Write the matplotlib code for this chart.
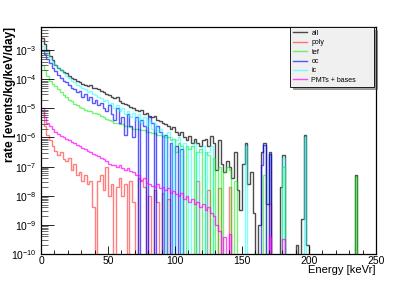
"""
Background rate spectra per detector component (ROOT-style log histogram)
"""

import numpy as np
import matplotlib
matplotlib.use("Agg")
import matplotlib.pyplot as plt
from matplotlib.ticker import MultipleLocator, LogLocator, NullFormatter

plt.rcParams["font.family"] = ["Liberation Sans", "DejaVu Sans"]
plt.rcParams["mathtext.fontset"] = "custom"
plt.rcParams["mathtext.rm"] = "Liberation Sans"
plt.rcParams["mathtext.it"] = "Liberation Sans:italic"

# 2 keV bins from 0 to 250 keVr
bin_edges = np.arange(0, 252, 2)

# log10(rate) per bin, continuous part from 0 keV; None = empty bin
all_log = [
    -2.6, -2.8, -3.0, -3.2, -3.35, -3.5, -3.6, -3.7, -3.75, -3.8,
    -3.9, -3.95, -4.0, -4.05, -4.1, -4.15, -4.2, -4.25, -4.2, -4.3,
    -4.3, -4.35, -4.4, -4.45, -4.5, -4.55, -4.6, -4.65, -4.6, -4.75,
    -4.8, -4.85, -4.9, -4.95, -5.0, -5.05, -5.1, -5.05, -5.2, -5.15,
    -5.25, -5.3, -5.25, -5.4, -5.45, -5.5, -5.55, -5.6, -5.7, -5.65,
    -5.8, -5.9, -5.8, -6.0, -6.1, -5.95, -6.2, -6.05, -6.2, -6.3,
    -6.1, -6.05, -6.3, -5.95, -6.2, -7.1, -6.1, -6.9, -7.2, -6.8,
    -7.0, -7.4, -6.5, -7.8, -8.5, -6.9, -6.2, -7.6, -7.2, -8.6,
]
poly_log = [
    -5.1, -5.6, -5.9, -6.1, -6.3, -6.45, -6.6, -6.5, -6.75, -6.8,
    -6.7, -7.1, -6.9, -7.3, -7.2, -7.5, -7.3, -7.6, -7.5, -8.4,
    None, -7.5, -7.3, -7.8, -7.0, -8.0, -7.6, None, -7.7, -7.4,
    -8.0, -7.6, None, -7.5, -8.2, None, -7.4, -7.5, -7.7, None,
    -8.0, None, -7.8, -8.2, None, -7.9, None, -8.1,
]
tef_log = [
    -3.5, -3.7, -3.9, -4.05, -4.15, -4.25, -4.35, -4.45, -4.55, -4.6,
    -4.7, -4.75, -4.85, -4.9, -4.95, -5.0, -5.05, -5.1, -5.1, -5.15,
    -5.15, -5.2, -5.25, -5.3, -5.35, -5.4, -5.45, -5.5, -5.5, -5.55,
    -5.55, -5.6, -5.6, -5.65, -5.7, -5.7, -5.7, -5.75, -5.75, -5.8,
    -5.8, -5.85, -5.85, -5.9, -5.9, -5.95, -6.0, -6.0, -6.1, -6.05,
    -6.5, -6.2, -6.3, None, -6.3, -6.4, -6.3, None, -6.5, -6.4,
    None, -6.5, -6.6, None, -6.7, None, -7.0, None, -7.2, -7.0,
    -7.1, None, -7.5,
]
oc_log = [
    -3.0, -3.15, -3.3, -3.45, -3.6, -3.72, -3.85, -3.95, -4.05, -4.1,
    -4.2, -4.3, -4.35, -4.45, -4.4, -4.6, -4.5, -4.7, -4.6, -4.8,
    -4.7, -4.9, -4.8, -5.0, -5.1, -4.9, -5.2, -5.4, -5.0, -5.5,
    -5.3, -5.9, -5.2, -5.6, -6.0, -5.3, None, -5.4, -5.6, None,
    -5.3, -5.5, None, -5.6, -5.8, None, -5.9, None, -6.2, None,
    -6.3, None, -6.4,
]
ic_log = [
    -2.85, -3.0, -3.15, -3.3, -3.4, -3.5, -3.6, -3.7, -3.8, -3.88,
    -3.95, -4.05, -4.1, -4.2, -4.25, -4.3, -4.35, -4.45, -4.4, -4.5,
    -4.55, -4.6, -4.65, -4.75, -4.7, -4.85, -4.8, -5.0, -4.9, -5.1,
    -5.0, -5.2, -5.1, -5.3, -5.15, -5.4, -5.2, -5.5, -5.3, -5.6,
    -5.4, -5.7, -5.5, -5.8, -5.7, -5.9, None, -5.8, -6.0, None,
    -6.1, -6.0, None, -6.2, -6.4, None, -6.3, -6.2, None, -6.5,
    -6.3, None, -6.5, -6.3,
]
pmt_log = [
    -5.0, -5.3, -5.5, -5.62, -5.72, -5.8, -5.88, -5.95, -6.0, -6.05,
    -6.1, -6.15, -6.2, -6.25, -6.3, -6.35, -6.4, -6.45, -6.5, -6.55,
    -6.6, -6.65, -6.7, -6.75, -6.8, -6.9, -6.95, -6.95, -7.0, -6.95,
    -7.05, -7.1, -7.05, -7.15, -7.2, -7.3, -7.3, -7.45, -7.4, -7.55,
    -7.6, -7.65, -7.7, -7.6, -7.75, -7.7, -7.8, -7.75, -7.9, -7.85,
    -7.95, -8.0, -7.9, -8.1, -8.0, -8.2, -8.1, -8.3, -8.2, -8.4,
    -8.3, -8.5, -8.4, -8.6, -8.7, -9.0, -9.2, None, -9.4, None,
    -9.3,
]

# sparse high-energy bins: (bin centre in keVr, log10 rate)
all_tail_e = [163, 165, 167, 169, 171, 179, 181, 191, 195, 197, 199, 235]
all_tail_v = [-9.0, -6.5, -6.2, -8.3, -6.5, -7.7, -6.6, -9.7, -8.8, -5.9, -9.7, -7.3]
poly_tail_e = [117, 125, 133, 141, 171]
poly_tail_v = [-7.5, -7.8, -7.75, -7.7, -8.3]
tef_tail_e = [167, 181, 235]
tef_tail_v = [-7.3, -7.0, -7.35]
oc_tail_e = [165, 167, 171]
oc_tail_v = [-6.95, -6.25, -6.55]
ic_tail_e = [153, 181, 197]
ic_tail_v = [-6.3, -6.7, -6.0]
pmt_tail_e = [171, 181]
pmt_tail_v = [-9.4, -9.5]

labels = ["all", "poly", "tef", "oc", "ic", "PMTs + bases"]


def to_rate(logs, tail_e, tail_v):
    n = len(bin_edges) - 1
    vals = np.full(n, 1e-14)
    for i, v in enumerate(logs):
        if v is not None:
            vals[i] = 10.0 ** v
    for e, v in zip(tail_e, tail_v):
        vals[int(e // 2)] = 10.0 ** v
    return vals


series = [
    (all_log, all_tail_e, all_tail_v, "black", 0.7),
    (poly_log, poly_tail_e, poly_tail_v, "#ff0000", 0.5),
    (tef_log, tef_tail_e, tef_tail_v, "#00ee00", 0.55),
    (oc_log, oc_tail_e, oc_tail_v, "#0000ff", 0.65),
    (ic_log, ic_tail_e, ic_tail_v, "#00ffff", 0.5),
    (pmt_log, pmt_tail_e, pmt_tail_v, "#ff00ff", 0.7),
]

fig = plt.figure(figsize=(4.15, 2.81), dpi=100)
ax = fig.add_axes([0.099, 0.096, 0.807, 0.808])
ax.set_yscale("log")

for (logs, te, tv, col, a), lab in zip(series, labels):
    ax.stairs(to_rate(logs, te, tv), bin_edges, baseline=None,
              color=col, alpha=a, lw=1.0, label=lab)

ax.set_xlim(0, 250)
ax.set_ylim(1e-10, 6.2e-3)

ax.xaxis.set_major_locator(MultipleLocator(50))
ax.xaxis.set_minor_locator(MultipleLocator(10))
ax.yaxis.set_major_locator(LogLocator(base=10, numticks=20))
ax.yaxis.set_minor_locator(LogLocator(base=10, subs=np.arange(2, 10), numticks=20))
ax.yaxis.set_minor_formatter(NullFormatter())

ax.tick_params(axis="both", which="both", direction="in", top=False, right=False,
               labelsize=7.5, width=0.6)
ax.tick_params(axis="x", which="major", length=6, pad=1.5)
ax.tick_params(axis="x", which="minor", length=3)
ax.tick_params(axis="y", which="major", length=9, pad=3)
ax.tick_params(axis="y", which="minor", length=5, color="#555555")
for sp in ax.spines.values():
    sp.set_linewidth(0.9)

ax.set_xlabel("Energy [keVr]", fontsize=8, loc="right")
ax.xaxis.set_label_coords(1.0, -0.05)
ax.set_ylabel("rate [events/kg/keV/day]", fontsize=8.5, fontweight="bold", loc="top")
ax.yaxis.set_label_coords(-0.075, 1.0)

leg = ax.legend(loc="upper left", bbox_to_anchor=(0.743, 0.75, 0.251, 0.25),
                mode="expand", borderaxespad=0,
                fontsize=5, frameon=True, fancybox=False, shadow=True,
                facecolor="#f0f0f0", edgecolor="black", framealpha=1,
                handlelength=2.0, handletextpad=0.7, labelspacing=0.35,
                borderpad=0.4)
leg.get_frame().set_linewidth(0.6)
for line in leg.get_lines():
    line.set_linewidth(1.0)

fig.savefig("out.png", dpi=100)
plt.close(fig)
print("Saved: out.png")
